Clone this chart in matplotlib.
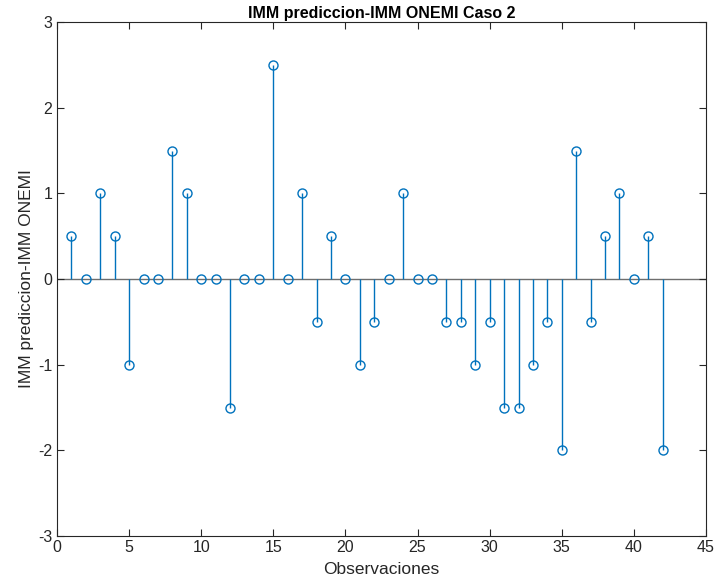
import matplotlib
matplotlib.use("Agg")
import matplotlib.pyplot as plt

plt.rcParams['font.family'] = ['Liberation Sans', 'DejaVu Sans']
plt.rcParams['axes.unicode_minus'] = False

observaciones = list(range(1, 43))
diferencias = [0.5, 0, 1, 0.5, -1, 0, 0, 1.5, 1, 0,
               0, -1.5, 0, 0, 2.5, 0, 1, -0.5, 0.5, 0,
               -1, -0.5, 0, 1, 0, 0, -0.5, -0.5, -1, -0.5,
               -1.5, -1.5, -1, -0.5, -2, 1.5, -0.5, 0.5, 1, 0,
               0.5, -2]
xticks = [0, 5, 10, 15, 20, 25, 30, 35, 40, 45]
yticks = [-3, -2, -1, 0, 1, 2, 3]

fig = plt.figure(figsize=(7.27, 5.84), dpi=100)
ax = fig.add_axes([57/727, 1 - 536/584, (706-57)/727, (536-22)/584])

blue = '#0072BD'
ml, sl, bl = ax.stem(observaciones, diferencias, basefmt=' ')
plt.setp(sl, color=blue, linewidth=1.0)
plt.setp(ml, marker='o', markersize=6.5, markerfacecolor='none',
         markeredgecolor=blue, markeredgewidth=1.0)
ax.axhline(0, color='#6e6e6e', linewidth=1.0, zorder=1)

ax.set_xlim(0, 45)
ax.set_ylim(-3, 3)
ax.set_xticks(xticks)
ax.set_yticks(yticks)
ax.tick_params(direction='in', length=5, colors='#262626', labelsize=11.5,
               top=True, right=True, width=0.8)
ax.tick_params(axis='x', pad=3)
for s in ax.spines.values():
    s.set_color('#262626')
    s.set_linewidth(0.8)
ax.set_xlabel('Observaciones', fontsize=12.5, color='#262626', labelpad=5)
ax.set_ylabel('IMM prediccion-IMM ONEMI', fontsize=12.5, color='#262626', labelpad=3)
ax.set_title('IMM prediccion-IMM ONEMI Caso 2', fontsize=11.5, fontweight='bold',
             color='black', pad=3)

fig.savefig('out.png', dpi=100)
